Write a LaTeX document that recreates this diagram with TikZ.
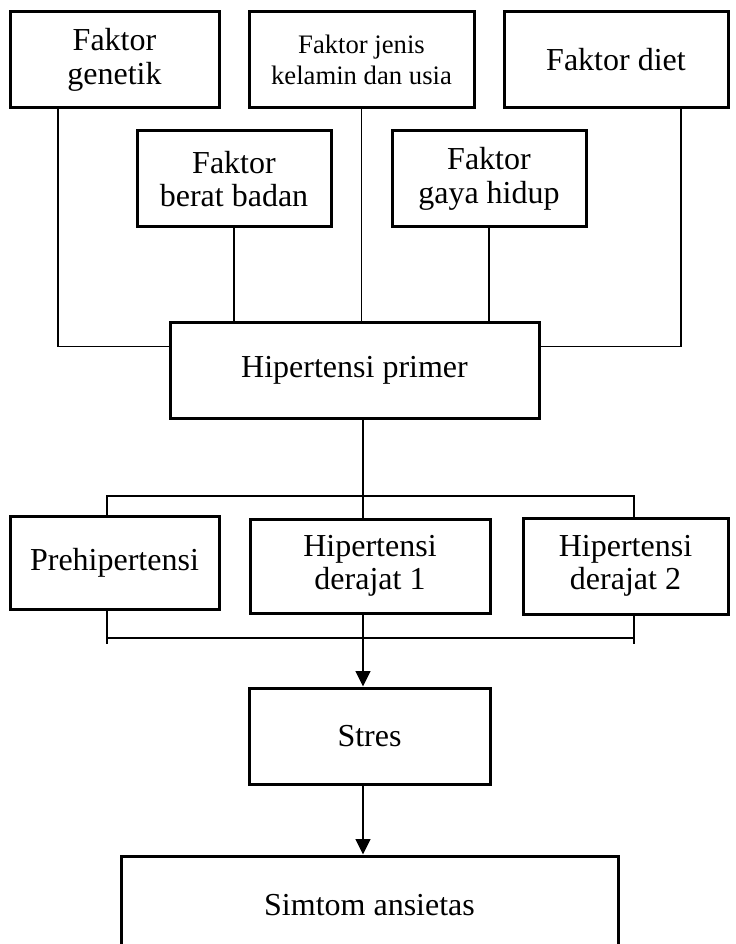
\documentclass[tikz,border=0pt]{standalone}
\usepackage{fontspec}
\setmainfont{Liberation Serif}
\usetikzlibrary{arrows.meta}

\begin{document}
\begin{tikzpicture}[x=0.75pt, y=-0.75pt,
  box/.style={draw, line width=2.25pt, align=center, inner sep=0pt, minimum height=72pt,
    font=\fontsize{24}{25}\selectfont},
  smallbox/.style={box, font=\fontsize{20}{23}\selectfont},
  link/.style={line width=0.8pt},
  trunkline/.style={line width=1.7pt},
  arrowline/.style={line width=1.7pt, -{Triangle[length=11.5pt, width=11pt]}}]
\useasboundingbox (0,0) rectangle (735,944);

%Factors
\node[box, minimum width=156.75pt] (genetik) at (114.5,60) {Faktor\\genetik};
\node[smallbox, minimum width=168.75pt] (jenis) at (361.5,60) {Faktor jenis\\kelamin dan usia};
\node[box, minimum width=168pt] (diet) at (616,60) {Faktor diet};
\node[box, minimum width=145.5pt] (berat) at (234,179) {Faktor\\berat badan};
\node[box, minimum width=145.5pt] (gaya) at (489,179) {Faktor\\gaya hidup};

%Hipertensi primer
\node[box, minimum width=276.75pt, minimum height=71.25pt] (primer) at (354.5,370.5) {Hipertensi primer};
\coordinate (trunk) at (363,0);

\draw[link] ([xshift=-42.4pt]genetik.south) |- ([yshift=-18.75pt]primer.north west);
\draw[link] ([xshift=48.75pt]diet.south) |- ([yshift=-18.75pt]primer.north east);
\draw[link] (berat.south) -- (berat.south |- primer.north);
\draw[link] (jenis.south) -- (jenis.south |- primer.north);
\draw[link] (gaya.south) -- (gaya.south |- primer.north);

%Classification
\node[box, minimum width=156.75pt, minimum height=69.75pt] (pre) at (114.5,562.5) {Prehipertensi};
\node[box, minimum width=180pt, minimum height=70.5pt] (der1) at (370,566) {Hipertensi\\derajat 1};
\node[box, minimum width=153.75pt] (der2) at (625.5,566) {Hipertensi\\derajat 2};

\coordinate (tl) at (107,496);
\coordinate (tr) at (634,496);
\coordinate (bl) at (107,638);
\coordinate (br) at (634,638);

\draw[trunkline] (primer.south -| trunk) -- (der1.north -| trunk);
\draw[link] (pre.north -| tl) -- (tl) -- (tr) -- (der2.north -| tr);
\draw[link] (pre.south -| bl) -- ([yshift=-4.5pt]bl);
\draw[link] (der2.south -| br) -- ([yshift=-4.5pt]br);
\draw[link] (bl) -- (br);

%Outcome
\node[box, minimum width=180.75pt] (stres) at (369.5,736) {Stres};
\node[box, minimum width=372.75pt, minimum height=73.5pt] (simtom) at (369.5,905) {Simtom ansietas};

\draw[arrowline] (der1.south -| trunk) -- (stres.north -| trunk);
\draw[arrowline] (stres.south -| trunk) -- (simtom.north -| trunk);

\end{tikzpicture}
\end{document}
